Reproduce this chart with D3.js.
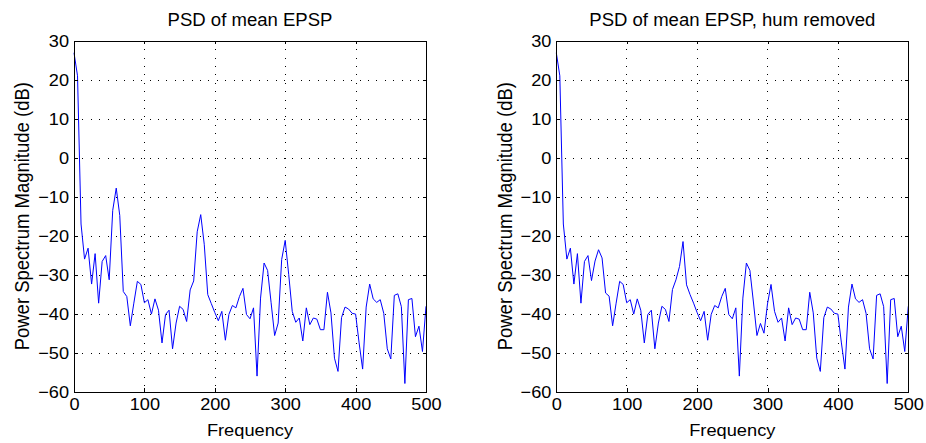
<!DOCTYPE html>
<html>
<meta charset="utf-8">
<style>
body { margin: 0; background: #fff; }
svg { display: block; }
text { font-family: "Liberation Sans", Arial, Helvetica, sans-serif; fill: #000; }
.axis path, .axis line { fill: none; stroke: #000; shape-rendering: crispEdges; }
.grid line { stroke: #000; stroke-width: 1; stroke-dasharray: 1 7.4; shape-rendering: crispEdges; }
path.psd { fill: none; stroke: #0000ff; stroke-width: 1; }
</style>
<body>
<div id="chart"></div>

<script src="https://cdn.jsdelivr.net/npm/d3@7/dist/d3.min.js"></script>
<script>

// frequency bins, 5 Hz apart
var freqs = d3.range(0, 501, 5);

var xTicks = [0, 100, 200, 300, 400, 500];
var yTicks = [-60, -50, -40, -30, -20, -10, 0, 10, 20, 30];

var titles = ["PSD of mean EPSP", "PSD of mean EPSP, hum removed"];

var psdRaw = [
  26.9, 21, -17, -26, -23.2, -32.4, -24.6, -37.3, -26.6, -25.1,
  -31.3, -13.5, -7.8, -14.8, -34.3, -35.6, -43.1, -37.3, -31.7, -32.5,
  -37.2, -36.4, -40.1, -36.2, -39.1, -47.5, -40.2, -39.1, -49, -42.4,
  -38.1, -38.9, -42, -33.9, -31.6, -19, -14.6, -22.2, -35.1, -37.4,
  -39.7, -41.8, -39.4, -46.8, -40.2, -37.9, -38.5, -35.6, -33.5, -40.2,
  -41.3, -38.5, -56, -36, -27, -28.9, -37.2, -45.6, -42.4, -26.1,
  -21.2, -30, -39.4, -42.2, -41.1, -47, -38.5, -42.8, -41.1, -41.4,
  -44.1, -44.1, -34.5, -39.8, -51.4, -54.8, -41, -38.3, -38.8, -39.9,
  -40.1, -47.5, -54.2, -38.3, -32.4, -36.2, -37.1, -36.4, -39.9, -49,
  -51.6, -35.3, -34.9, -38.2, -57.9, -36.4, -36.1, -45.9, -43.2, -49.7,
  -38.1
];

var psdClean = [
  26.9, 21, -17, -26, -23.2, -32.4, -24.6, -37.3, -26.6, -25.1,
  -31.5, -26.5, -23.6, -25.7, -34.7, -35.5, -43.1, -37.3, -31.7, -32.5,
  -37.2, -36.4, -40.1, -36.2, -39.1, -47.5, -40.2, -39.1, -49, -42.4,
  -38.1, -38.9, -42, -33.8, -31.3, -27.9, -21.5, -32.6, -35.1, -37.3,
  -39.7, -41.8, -39.4, -46.8, -40.2, -37.9, -38.5, -35.6, -33.5, -40.2,
  -41.3, -38.5, -56, -36, -27, -28.9, -37, -45.6, -42.5, -45,
  -37.5, -32.5, -39.4, -42.2, -41.1, -47, -38.5, -42.8, -41.1, -41.4,
  -44.1, -44.1, -34.5, -39.8, -51.4, -54.8, -41, -38.3, -38.8, -39.9,
  -40.1, -47.5, -54.2, -38.3, -32.4, -36.2, -37.1, -36.4, -39.9, -49,
  -51.6, -35.3, -34.9, -38.2, -57.9, -36.4, -36.1, -45.9, -43.2, -49.7,
  -38.1
];

var width = 926, height = 443;
var stretch = 1.08;   // glyphs in the picture are a bit wider than tall

var svg = d3.select("#chart").append("svg")
    .attr("width", width)
    .attr("height", height);

svg.append("rect").attr("width", width).attr("height", height).attr("fill", "#fff");

function panel(left, title, values) {
  var top = 40.7, w = 352, h = 351;

  var x = d3.scaleLinear().domain([0, 500]).range([0, w]);
  var y = d3.scaleLinear().domain([-60, 30]).range([h, 0]);

  var g = svg.append("g")
      .attr("transform", "translate(" + left + "," + top + ")");

  var grid = g.append("g").attr("class", "grid");
  grid.selectAll(".gx")
      .data(xTicks.slice(1, -1))
    .enter().append("line")
      .attr("x1", function(d) { return Math.round(x(d)) + 0.5; })
      .attr("x2", function(d) { return Math.round(x(d)) + 0.5; })
      .attr("y1", 0).attr("y2", h);
  grid.selectAll(".gy")
      .data(yTicks.slice(1, -1))
    .enter().append("line")
      .attr("y1", function(d) { return Math.round(y(d)) + 0.5; })
      .attr("y2", function(d) { return Math.round(y(d)) + 0.5; })
      .attr("x1", 0).attr("x2", w);

  var line = d3.line()
      .x(function(d, i) { return x(freqs[i]); })
      .y(function(d) { return y(d); });

  g.append("path")
      .datum(values)
      .attr("class", "psd")
      .attr("d", line);

  var xb = g.append("g")
      .attr("class", "axis")
      .attr("transform", "translate(0," + h + ")")
      .call(d3.axisBottom(x).tickValues(xTicks).tickSizeInner(-3.5).tickSizeOuter(0).tickPadding(6.5));
  xb.selectAll("text")
      .style("font-size", "16.8px")
      .attr("transform", "scale(" + stretch + ",1)");

  var yl = g.append("g")
      .attr("class", "axis")
      .call(d3.axisLeft(y).tickValues(yTicks).tickSizeInner(-3.5).tickSizeOuter(0).tickPadding(5));
  yl.selectAll("text")
      .style("font-size", "16.8px")
      .attr("x", -5 / stretch)
      .attr("transform", "scale(" + stretch + ",1)");

  g.append("g")
      .attr("class", "axis")
      .call(d3.axisTop(x).tickValues(xTicks).tickSizeInner(-3.5).tickSizeOuter(0).tickFormat(""));
  g.append("g")
      .attr("class", "axis")
      .attr("transform", "translate(" + w + ",0)")
      .call(d3.axisRight(y).tickValues(yTicks).tickSizeInner(-3.5).tickSizeOuter(0).tickFormat(""));

  g.selectAll(".axis text").attr("fill", "#000");

  g.append("text")
      .attr("transform", "translate(" + (w / 2) + "," + (26 - top) + ") scale(1.06,1)")
      .attr("text-anchor", "middle")
      .style("font-size", "17.5px")
      .text(title);

  g.append("text")
      .attr("transform", "translate(" + (w / 2) + "," + (436 - top) + ") scale(" + stretch + ",1)")
      .attr("text-anchor", "middle")
      .style("font-size", "16.9px")
      .text("Frequency");

  g.append("text")
      .attr("transform", "translate(" + (-44.7) + "," + (h / 2) + ") rotate(-90) scale(1," + stretch + ")")
      .attr("text-anchor", "middle")
      .style("font-size", "18.5px")
      .text("Power Spectrum Magnitude (dB)");
}

panel(74, titles[0], psdRaw);
panel(556.3, titles[1], psdClean);

</script>
</body>
</html>
